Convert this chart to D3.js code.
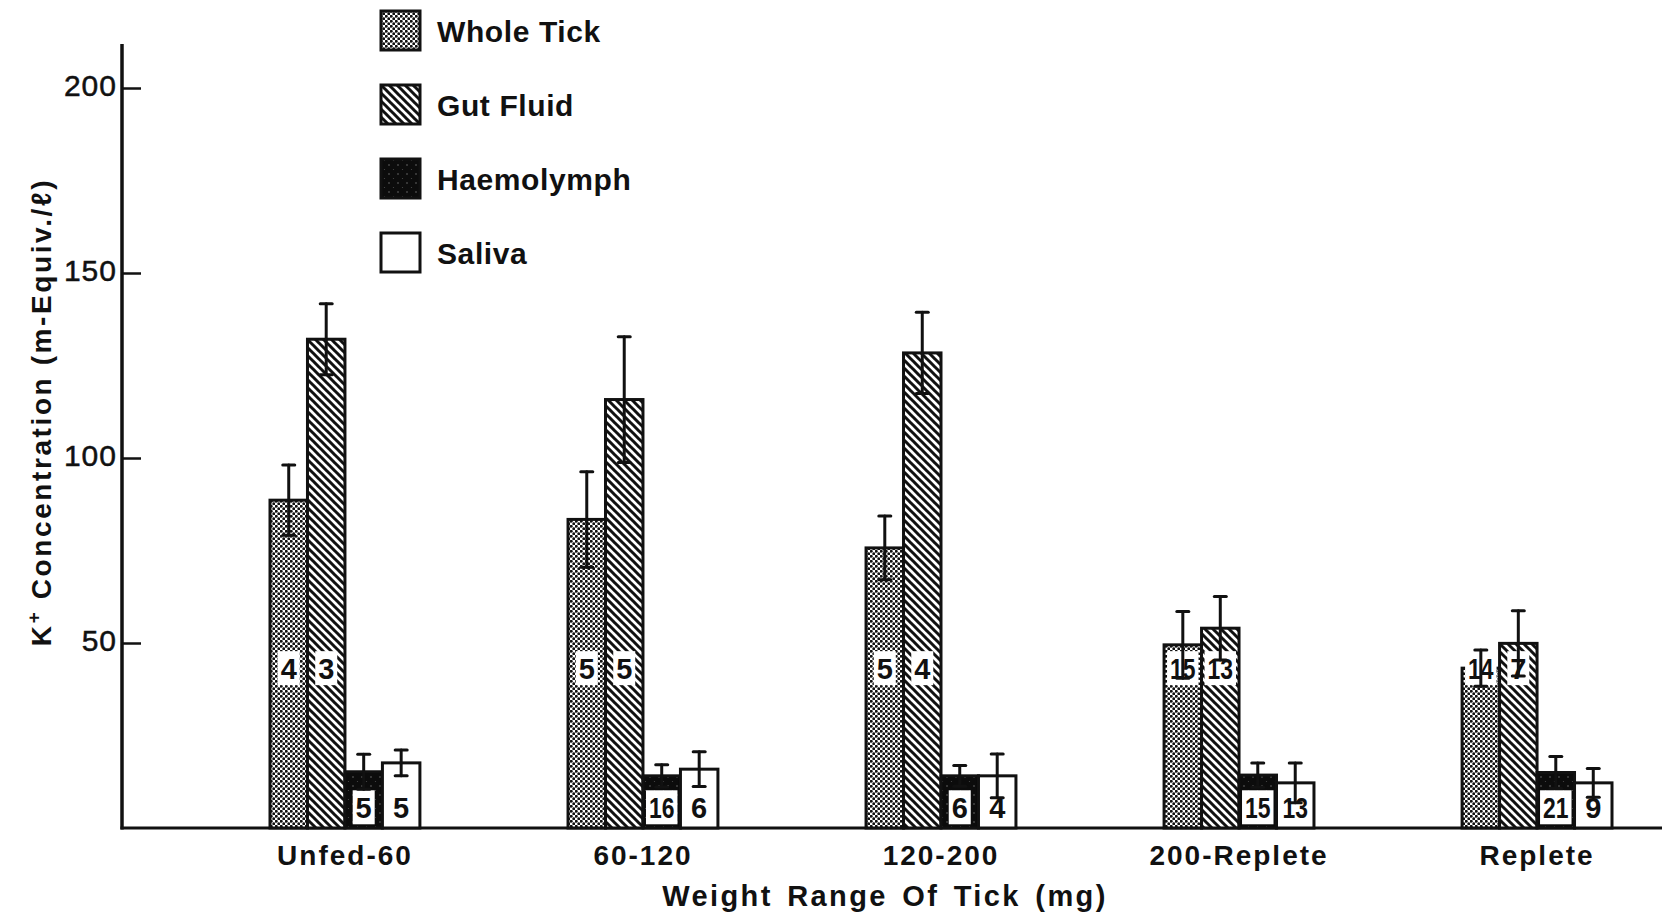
<!DOCTYPE html>
<html>
<head>
<meta charset="utf-8">
<script src="https://cdn.jsdelivr.net/npm/d3@7"></script>
<style>
  body { margin: 0; background: #fff; }
  svg { display: block; }
</style>
</head>
<body>
<svg id="chart" width="1662" height="913"></svg>
<script>
// ---------- data ----------
const categories = ["Unfed-60", "60-120", "120-200", "200-Replete", "Replete"];
const seriesNames = ["Whole Tick", "Gut Fluid", "Haemolymph", "Saliva"];

const wholeTick  = [88.6, 83.4, 75.7, 49.5, 43.2];
const gutFluid   = [132.1, 115.8, 128.4, 54.0, 49.9];
const haemolymph = [15.2, 14.1, 14.1, 14.3, 15.0];
const saliva     = [17.6, 15.9, 14.1, 12.2, 12.2];

const wholeTickErr  = [9.5, 12.9, 8.6, 9.0, 4.9];
const gutFluidErr   = [9.6, 17.0, 11.0, 8.6, 8.8];
const haemolymphErr = [4.7, 3.0, 2.8, 3.3, 4.3];
const salivaErr     = [3.5, 4.7, 5.9, 5.4, 3.9];

const wholeTickN  = [4, 5, 5, 15, 14];
const gutFluidN   = [3, 5, 4, 13, 7];
const haemolymphN = [5, 16, 6, 15, 21];
const salivaN     = [5, 6, 4, 13, 9];

const yTicks = [50, 100, 150, 200];
const xTitle = "Weight Range Of Tick (mg)";

// ---------- build table ----------
const seriesValues = [wholeTick, gutFluid, haemolymph, saliva];
const seriesErrs = [wholeTickErr, gutFluidErr, haemolymphErr, salivaErr];
const seriesNs = [wholeTickN, gutFluidN, haemolymphN, salivaN];
const fills = ["url(#stipple)", "url(#hatch)", "url(#haemo)", "#fff"];

const rows = [];
categories.forEach((c, ci) => {
  seriesNames.forEach((s, si) => {
    rows.push({cat: c, series: s, si, value: seriesValues[si][ci], err: seriesErrs[si][ci], n: seriesNs[si][ci]});
  });
});

// ---------- setup ----------
const svg = d3.select("#chart");
const FONT = "'Liberation Sans', Arial, Helvetica, sans-serif";

const defs = svg.append("defs");
// stipple pattern
const p1 = defs.append("pattern").attr("id", "stipple").attr("patternUnits", "userSpaceOnUse")
  .attr("width", 5).attr("height", 5);
p1.append("rect").attr("width", 5).attr("height", 5).attr("fill", "#fff");
p1.append("circle").attr("cx", 1.25).attr("cy", 1.25).attr("r", 1.45).attr("fill", "#111");
p1.append("circle").attr("cx", 3.75).attr("cy", 3.75).attr("r", 1.45).attr("fill", "#111");
// hatch pattern "\\"
const p2 = defs.append("pattern").attr("id", "hatch").attr("patternUnits", "userSpaceOnUse")
  .attr("width", 8).attr("height", 8);
p2.append("rect").attr("width", 8).attr("height", 8).attr("fill", "#fff");
p2.append("path").attr("d", "M-1,-1 L9,9 M7,-1 L9,1 M-1,7 L1,9")
  .attr("stroke", "#111").attr("stroke-width", 3);
// haemolymph pattern (dark, sparse speckle)
const p3 = defs.append("pattern").attr("id", "haemo").attr("patternUnits", "userSpaceOnUse")
  .attr("width", 9).attr("height", 9);
p3.append("rect").attr("width", 9).attr("height", 9).attr("fill", "#0c0c0c");
p3.append("circle").attr("cx", 2).attr("cy", 3).attr("r", 0.8).attr("fill", "#6a6a6a");
p3.append("circle").attr("cx", 6.5).attr("cy", 7.5).attr("r", 0.6).attr("fill", "#4a4a4a");

// ---------- scales ----------
const y = d3.scaleLinear().domain([0, 200]).range([828, 88]);
const xGroup = d3.scaleBand().domain(categories).range([270, 1612]).paddingInner(0.497).paddingOuter(0);
const xSeries = d3.scaleBand().domain(seriesNames).range([0, xGroup.bandwidth()]);

// ---------- axes ----------
const axisX = 122;
svg.append("line").attr("x1", axisX).attr("x2", axisX).attr("y1", 44).attr("y2", y(0) + 1.5)
  .attr("stroke", "#111").attr("stroke-width", 3.5);
svg.append("line").attr("x1", axisX - 1.5).attr("x2", 1662).attr("y1", y(0)).attr("y2", y(0))
  .attr("stroke", "#111").attr("stroke-width", 3);

const yAxisG = svg.append("g").attr("transform", `translate(${axisX},0)`)
  .call(d3.axisLeft(y).tickValues(yTicks).tickSize(-19).tickPadding(5).tickFormat(d3.format("d")));
yAxisG.select(".domain").remove();
yAxisG.selectAll(".tick line").attr("stroke", "#111").attr("stroke-width", 2.5);
yAxisG.selectAll(".tick text")
  .attr("font-family", FONT).attr("font-size", 30).attr("letter-spacing", 1)
  .attr("fill", "#111").attr("stroke", "#111").attr("stroke-width", 0.5)
  .attr("dy", "0.24em");

const xAxisG = svg.append("g").attr("transform", `translate(0,${y(0)})`)
  .call(d3.axisBottom(xGroup).tickSize(0));
xAxisG.select(".domain").remove();
xAxisG.selectAll(".tick text")
  .attr("font-family", FONT).attr("font-size", 28).attr("font-weight", "bold")
  .attr("letter-spacing", 2).attr("fill", "#111")
  .attr("y", 37).attr("dy", 0);

// axis titles
svg.append("text").attr("x", 885).attr("y", 906).attr("text-anchor", "middle")
  .attr("font-family", FONT).attr("font-size", 29).attr("font-weight", "bold")
  .attr("letter-spacing", 2.4).attr("word-spacing", 4).attr("fill", "#111").text(xTitle);

const yt = svg.append("text").attr("transform", "translate(51,412) rotate(-90)")
  .attr("text-anchor", "middle").attr("font-family", FONT).attr("font-size", 28)
  .attr("font-weight", "bold").attr("letter-spacing", 2.6).attr("fill", "#111");
yt.append("tspan").text("K");
yt.append("tspan").attr("dy", -11).attr("font-size", 19).text("+");
yt.append("tspan").attr("dy", 11).text(" Concentration (m-Equiv./ℓ)");

// ---------- bars ----------
const gBars = svg.append("g");
gBars.selectAll("rect.bar").data(rows).join("rect").attr("class", "bar")
  .attr("x", d => xGroup(d.cat) + xSeries(d.series))
  .attr("y", d => y(d.value))
  .attr("width", xSeries.bandwidth())
  .attr("height", d => y(0) - y(d.value))
  .attr("fill", d => fills[d.si])
  .attr("stroke", "#111").attr("stroke-width", 3);

// ---------- n labels ----------
const gLab = svg.append("g");
const bw = xSeries.bandwidth();
rows.forEach(d => {
  const cx = xGroup(d.cat) + xSeries(d.series) + bw / 2;
  const cy = d.value > 30 ? y(43.2) : y(5.6);
  const twoDigit = String(d.n).length > 1;
  const w = twoDigit ? bw - 6 : 22;
  gLab.append("rect")
    .attr("x", cx - w / 2).attr("y", cy - 17).attr("width", w).attr("height", 34)
    .attr("fill", "#fff");
  const t = gLab.append("text").attr("x", cx).attr("y", cy).attr("dy", "0.36em")
    .attr("text-anchor", "middle").attr("font-family", FONT).attr("font-size", 29)
    .attr("font-weight", "bold").attr("fill", "#111")
    .text(d.n);
  if (twoDigit) t.attr("textLength", bw - 12).attr("lengthAdjust", "spacingAndGlyphs");
});

// ---------- error bars ----------
const gErr = svg.append("g").attr("stroke", "#111").attr("stroke-width", 3).attr("stroke-linecap", "round");
rows.forEach(d => {
  const cx = xGroup(d.cat) + xSeries(d.series) + bw / 2;
  const top = y(d.value + d.err), bot = y(d.value - d.err);
  gErr.append("line").attr("x1", cx).attr("x2", cx).attr("y1", top).attr("y2", bot);
  gErr.append("line").attr("x1", cx - 6).attr("x2", cx + 6).attr("y1", top).attr("y2", top);
  gErr.append("line").attr("x1", cx - 6).attr("x2", cx + 6).attr("y1", bot).attr("y2", bot);
});

// ---------- legend ----------
const legend = svg.append("g");
seriesNames.forEach((s, i) => {
  const top = 11 + 74 * i;
  legend.append("rect").attr("x", 381).attr("y", top).attr("width", 39).attr("height", 39)
    .attr("fill", fills[i]).attr("stroke", "#111").attr("stroke-width", 3);
  legend.append("text").attr("x", 437).attr("y", top + 31)
    .attr("font-family", FONT).attr("font-size", 30).attr("font-weight", "bold")
    .attr("letter-spacing", 0.6).attr("fill", "#111").text(s);
});
</script>
</body>
</html>
